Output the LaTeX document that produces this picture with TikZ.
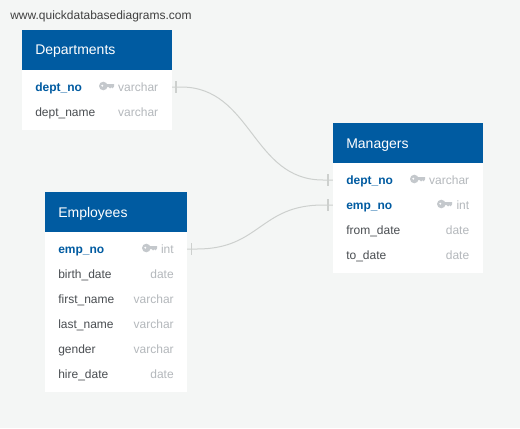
\documentclass[tikz,border=0pt]{standalone}
\usepackage{fontspec}
\setmainfont{Liberation Sans}
\definecolor{bgc}{HTML}{F4F6F5}
\definecolor{headc}{HTML}{005BA1}
\definecolor{typec}{HTML}{B4B8BC}
\definecolor{namec}{HTML}{4A4E52}
\definecolor{keyc}{HTML}{C4C8CC}
\definecolor{linec}{HTML}{CDD0CE}
\tikzset{
  x=0.75pt,y=-0.75pt,
  tbody/.style={fill=white,draw=none},
  thead/.style={fill=headc,draw=none},
  ttl/.style={anchor=base west,inner sep=0pt,text=white,font=\fontsize{10.5pt}{12pt}\selectfont},
  pk/.style={anchor=base west,inner sep=0pt,text=headc,font=\fontsize{9pt}{11pt}\selectfont\bfseries},
  fld/.style={anchor=base west,inner sep=0pt,text=namec,font=\fontsize{9pt}{11pt}\selectfont},
  typ/.style={anchor=base east,inner sep=0pt,text=typec,font=\fontsize{9pt}{11pt}\selectfont},
  web/.style={anchor=base west,inner sep=0pt,text=black!75,font=\fontsize{9pt}{11pt}\selectfont},
  conn/.style={draw=linec,line width=0.75pt},
  tick/.style={draw=linec,line width=0.9pt},
  keyg/.pic={
    \fill[keyc,even odd rule] (-3.2,0) circle (4.3) (-4.2,-0.3) circle (1.3);
    \fill[keyc] (0,-1.9) -- (7.5,-1.9) -- (7.5,0.4) -- (6.2,2.4) -- (4.9,1.2) -- (3.6,2.4) -- (2.3,1.2) -- (0,1.2) -- cycle;
  }
}
\begin{document}
\begin{tikzpicture}
\useasboundingbox (0,0) rectangle (520,428);
\fill[bgc] (0,0) rectangle (520,428);
% connectors
\coordinate (d1) at (171.5,87);
\coordinate (m1) at (333,180);
\coordinate (m2) at (333,205);
\coordinate (e1) at (187,249);
\draw[conn] (d1) -- (181,87) .. controls (252,87) and (252,180) .. (323,180) -- (m1);
\draw[conn] (e1) -- (197,249) .. controls (260,249) and (260,205) .. (323,205) -- (m2);
\draw[tick] (176,81) -- (176,93);
\draw[tick] (328,174) -- (328,186);
\draw[tick] (328,199) -- (328,211);
\draw[tick] (191.5,243) -- (191.5,255);
% Departments
\fill[tbody] (22,30) rectangle (171.5,130);
\fill[thead] (22,30) rectangle (171.5,70);
\node[ttl] (dT) at (35,55) {Departments};
\node[pk] (dA) at (35,91) {dept\_no};
\pic at (106.5,86) {keyg};
\node[typ] (dAt) at (158.5,91) {varchar};
\node[fld] (dB) at (35,116) {dept\_name};
\node[typ] (dBt) at (158.5,116) {varchar};
% Managers
\fill[tbody] (333,123) rectangle (482.5,273);
\fill[thead] (333,123) rectangle (482.5,163);
\node[ttl] (mT) at (346,148) {Managers};
\node[pk] (mA) at (346,184) {dept\_no};
\pic at (417.5,179) {keyg};
\node[typ] (mAt) at (469.5,184) {varchar};
\node[pk] (mB) at (346,209) {emp\_no};
\pic at (444.5,204) {keyg};
\node[typ] (mBt) at (469.5,209) {int};
\node[fld] (mC) at (346,234) {from\_date};
\node[typ] (mCt) at (469.5,234) {date};
\node[fld] (mD) at (346,259) {to\_date};
\node[typ] (mDt) at (469.5,259) {date};
% Employees
\fill[tbody] (45,192) rectangle (187,392);
\fill[thead] (45,192) rectangle (187,232);
\node[ttl] (eT) at (58,217) {Employees};
\node[pk] (eA) at (58,253) {emp\_no};
\pic at (149.5,248) {keyg};
\node[typ] (eAt) at (174,253) {int};
\node[fld] (eB) at (58,278) {birth\_date};
\node[typ] (eBt) at (174,278) {date};
\node[fld] (eC) at (58,303) {first\_name};
\node[typ] (eCt) at (174,303) {varchar};
\node[fld] (eD) at (58,328) {last\_name};
\node[typ] (eDt) at (174,328) {varchar};
\node[fld] (eE) at (58,353) {gender};
\node[typ] (eEt) at (174,353) {varchar};
\node[fld] (eF) at (58,378) {hire\_date};
\node[typ] (eFt) at (174,378) {date};
% site
\node[web] (site) at (10,20) {www.quickdatabasediagrams.com};
\end{tikzpicture}
\end{document}
